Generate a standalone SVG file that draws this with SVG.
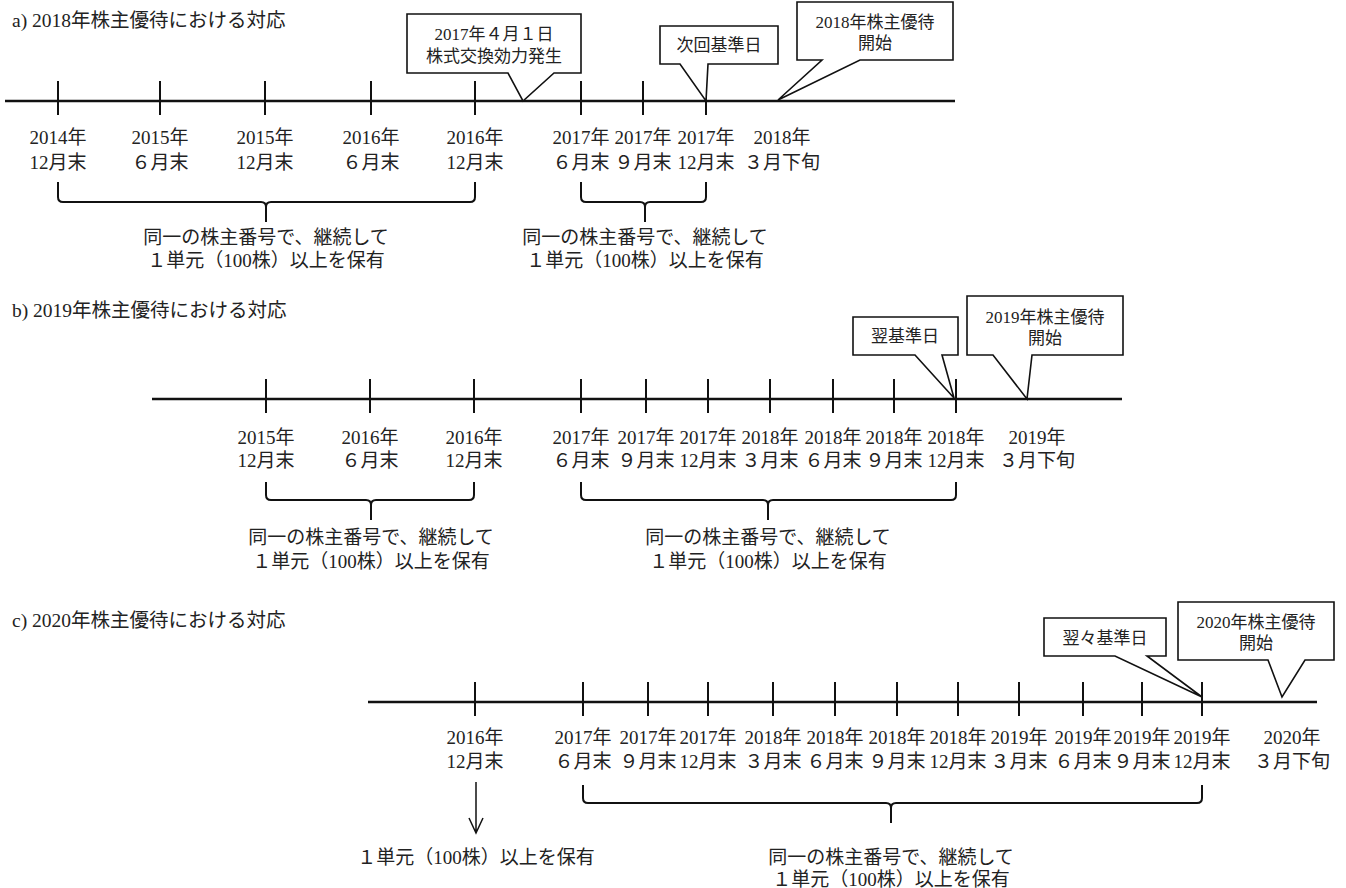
<svg xmlns="http://www.w3.org/2000/svg" width="1346" height="888" viewBox="0 0 1346 888">
<style>
text{font-family:"Liberation Serif","Noto Sans CJK JP",serif;fill:#222;}
.ttl{font-size:19.5px;}
.lb{font-size:19px;text-anchor:middle;}
.co{font-size:17px;text-anchor:middle;}
.axis{stroke:#111;stroke-width:2.6;fill:none;}
.tick{stroke:#111;stroke-width:2;fill:none;}
.brace{stroke:#111;stroke-width:2;fill:none;stroke-linejoin:round;}
.call{stroke:#111;stroke-width:1.6;fill:#fff;stroke-linejoin:miter;}
.arr{stroke:#111;stroke-width:1.5;fill:none;}
</style>
<rect width="1346" height="888" fill="#fff"/>

<!-- Section a -->
<g id="section-a">
<text class="ttl" x="12" y="27">a) 2018年株主優待における対応</text>
<g id="connectors-a">
<line class="axis" x1="5" y1="101" x2="955" y2="101"/>
<g class="tick">
<line x1="58" y1="81" x2="58" y2="115"/><line x1="160" y1="81" x2="160" y2="115"/><line x1="265" y1="81" x2="265" y2="115"/><line x1="371" y1="81" x2="371" y2="115"/><line x1="475" y1="81" x2="475" y2="115"/><line x1="581" y1="81" x2="581" y2="115"/><line x1="643" y1="81" x2="643" y2="115"/><line x1="706" y1="81" x2="706" y2="115"/>
</g>
<path class="brace" d="M58,182 V197 Q58,202 63,202 H261 Q266,202 266,207 V222 M266,207 Q266,202 271,202 H470 Q475,202 475,197 V182"/>
<path class="brace" d="M581,182 V197 Q581,202 586,202 H640 Q645,202 645,207 V222 M645,207 Q645,202 650,202 H701 Q706,202 706,197 V182"/>
</g>
<g id="labels-a">
<text class="lb" x="58" y="144">2014年</text><text class="lb" x="58" y="169">12月末</text>
<text class="lb" x="160" y="144">2015年</text><text class="lb" x="160" y="169">６月末</text>
<text class="lb" x="265" y="144">2015年</text><text class="lb" x="265" y="169">12月末</text>
<text class="lb" x="371" y="144">2016年</text><text class="lb" x="371" y="169">６月末</text>
<text class="lb" x="475" y="144">2016年</text><text class="lb" x="475" y="169">12月末</text>
<text class="lb" x="581" y="144">2017年</text><text class="lb" x="581" y="169">６月末</text>
<text class="lb" x="643" y="144">2017年</text><text class="lb" x="643" y="169">９月末</text>
<text class="lb" x="706" y="144">2017年</text><text class="lb" x="706" y="169">12月末</text>
<text class="lb" x="782" y="144">2018年</text><text class="lb" x="782" y="169">３月下旬</text>
<text class="lb" x="266" y="244">同一の株主番号で、継続して</text><text class="lb" x="266" y="267">１単元（100株）以上を保有</text>
<text class="lb" x="645" y="244">同一の株主番号で、継続して</text><text class="lb" x="645" y="267">１単元（100株）以上を保有</text>
</g>
<g id="callout-a1"><path class="call" d="M407,14 H581 V73 H554 L523,101 L508,73 H407 Z"/><text class="co" x="494" y="40">2017年４月１日</text><text class="co" x="494" y="62">株式交換効力発生</text></g>
<g id="callout-a2"><path class="call" d="M660,26 H778 V64 H708 L706,101 L680,64 H660 Z"/><text class="co" x="719" y="51">次回基準日</text></g>
<g id="callout-a3"><path class="call" d="M797,2 H953 V60 H860 L778,100 L822,60 H797 Z"/><text class="co" x="875" y="28">2018年株主優待</text><text class="co" x="875" y="49">開始</text></g>
</g>

<!-- Section b -->
<g id="section-b">
<text class="ttl" x="12" y="317">b) 2019年株主優待における対応</text>
<g id="connectors-b">
<line class="axis" x1="152" y1="399" x2="1122" y2="399"/>
<g class="tick">
<line x1="266" y1="379" x2="266" y2="413"/><line x1="370" y1="379" x2="370" y2="413"/><line x1="474" y1="379" x2="474" y2="413"/><line x1="581" y1="379" x2="581" y2="413"/><line x1="646" y1="379" x2="646" y2="413"/><line x1="708" y1="379" x2="708" y2="413"/><line x1="770" y1="379" x2="770" y2="413"/><line x1="833" y1="379" x2="833" y2="413"/><line x1="894" y1="379" x2="894" y2="413"/><line x1="956" y1="379" x2="956" y2="413"/>
</g>
<path class="brace" d="M266,482 V495 Q266,500 271,500 H366 Q371,500 371,505 V520 M371,505 Q371,500 376,500 H469 Q474,500 474,495 V482"/>
<path class="brace" d="M581,482 V495 Q581,500 586,500 H763 Q768,500 768,505 V520 M768,505 Q768,500 773,500 H951 Q956,500 956,495 V482"/>
</g>
<g id="labels-b">
<text class="lb" x="266" y="444">2015年</text><text class="lb" x="266" y="467">12月末</text>
<text class="lb" x="370" y="444">2016年</text><text class="lb" x="370" y="467">６月末</text>
<text class="lb" x="474" y="444">2016年</text><text class="lb" x="474" y="467">12月末</text>
<text class="lb" x="581" y="444">2017年</text><text class="lb" x="581" y="467">６月末</text>
<text class="lb" x="646" y="444">2017年</text><text class="lb" x="646" y="467">９月末</text>
<text class="lb" x="708" y="444">2017年</text><text class="lb" x="708" y="467">12月末</text>
<text class="lb" x="770" y="444">2018年</text><text class="lb" x="770" y="467">３月末</text>
<text class="lb" x="833" y="444">2018年</text><text class="lb" x="833" y="467">６月末</text>
<text class="lb" x="894" y="444">2018年</text><text class="lb" x="894" y="467">９月末</text>
<text class="lb" x="956" y="444">2018年</text><text class="lb" x="956" y="467">12月末</text>
<text class="lb" x="1037" y="444">2019年</text><text class="lb" x="1037" y="467">３月下旬</text>
<text class="lb" x="371" y="544">同一の株主番号で、継続して</text><text class="lb" x="371" y="568">１単元（100株）以上を保有</text>
<text class="lb" x="768" y="544">同一の株主番号で、継続して</text><text class="lb" x="768" y="568">１単元（100株）以上を保有</text>
</g>
<g id="callout-b1"><path class="call" d="M853,317 H958 V355 H942 L954,398 L915,355 H853 Z"/><text class="co" x="905" y="342">翌基準日</text></g>
<g id="callout-b2"><path class="call" d="M967,296 H1123 V355 H1032 L1027,399 L993,355 H967 Z"/><text class="co" x="1045" y="323">2019年株主優待</text><text class="co" x="1045" y="344">開始</text></g>
</g>

<!-- Section c -->
<g id="section-c">
<text class="ttl" x="12" y="627">c) 2020年株主優待における対応</text>
<g id="connectors-c">
<line class="axis" x1="368" y1="702" x2="1317" y2="702"/>
<g class="tick">
<line x1="475" y1="682" x2="475" y2="716"/><line x1="583" y1="682" x2="583" y2="716"/><line x1="648" y1="682" x2="648" y2="716"/><line x1="708" y1="682" x2="708" y2="716"/><line x1="773" y1="682" x2="773" y2="716"/><line x1="835" y1="682" x2="835" y2="716"/><line x1="897" y1="682" x2="897" y2="716"/><line x1="958" y1="682" x2="958" y2="716"/><line x1="1019" y1="682" x2="1019" y2="716"/><line x1="1083" y1="682" x2="1083" y2="716"/><line x1="1142" y1="682" x2="1142" y2="716"/><line x1="1202" y1="682" x2="1202" y2="716"/>
</g>
<path class="brace" d="M583,785 V798 Q583,803 588,803 H886 Q891,803 891,808 V823 M891,808 Q891,803 896,803 H1197 Q1202,803 1202,798 V785"/>
<path class="arr" d="M476,782 V833 M469,818 L476,833 L483,818"/>
</g>
<g id="labels-c">
<text class="lb" x="475" y="744">2016年</text><text class="lb" x="475" y="768">12月末</text>
<text class="lb" x="583" y="744">2017年</text><text class="lb" x="583" y="768">６月末</text>
<text class="lb" x="648" y="744">2017年</text><text class="lb" x="648" y="768">９月末</text>
<text class="lb" x="708" y="744">2017年</text><text class="lb" x="708" y="768">12月末</text>
<text class="lb" x="773" y="744">2018年</text><text class="lb" x="773" y="768">３月末</text>
<text class="lb" x="835" y="744">2018年</text><text class="lb" x="835" y="768">６月末</text>
<text class="lb" x="897" y="744">2018年</text><text class="lb" x="897" y="768">９月末</text>
<text class="lb" x="958" y="744">2018年</text><text class="lb" x="958" y="768">12月末</text>
<text class="lb" x="1019" y="744">2019年</text><text class="lb" x="1019" y="768">３月末</text>
<text class="lb" x="1083" y="744">2019年</text><text class="lb" x="1083" y="768">６月末</text>
<text class="lb" x="1142" y="744">2019年</text><text class="lb" x="1142" y="768">９月末</text>
<text class="lb" x="1202" y="744">2019年</text><text class="lb" x="1202" y="768">12月末</text>
<text class="lb" x="1292" y="744">2020年</text><text class="lb" x="1292" y="768">３月下旬</text>
<text class="lb" x="476" y="864">１単元（100株）以上を保有</text>
<text class="lb" x="891" y="864">同一の株主番号で、継続して</text><text class="lb" x="891" y="886">１単元（100株）以上を保有</text>
</g>
<g id="callout-c1"><path class="call" d="M1044,618 H1166 V656 H1147 L1202,697 L1115,656 H1044 Z"/><text class="co" x="1105" y="644">翌々基準日</text></g>
<g id="callout-c2"><path class="call" d="M1178,602 H1334 V660 H1305 L1282,697 L1268,660 H1178 Z"/><text class="co" x="1256" y="628">2020年株主優待</text><text class="co" x="1256" y="649">開始</text></g>
</g>
</svg>
